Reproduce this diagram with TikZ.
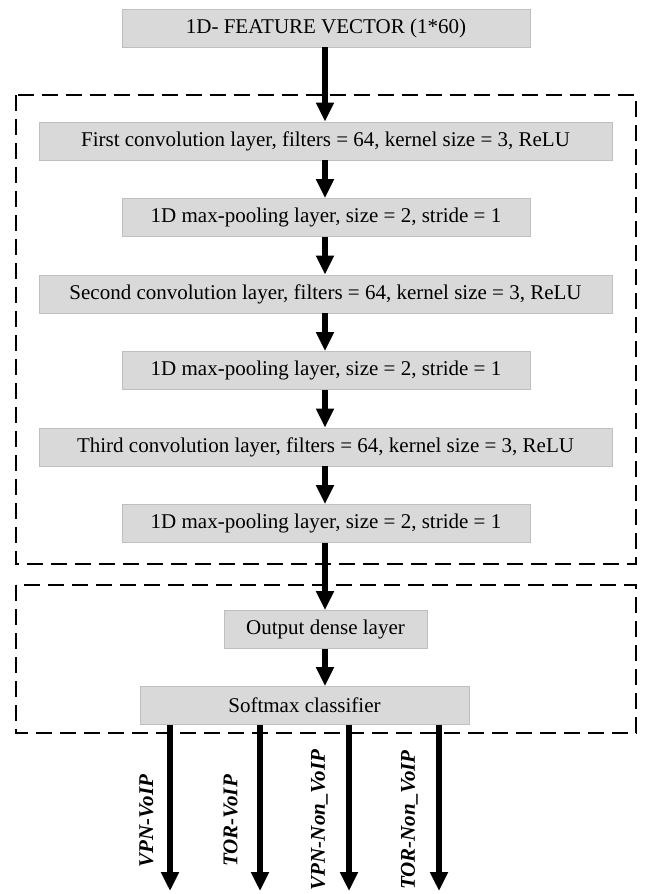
\documentclass[tikz,border=0pt]{standalone}
\usepackage{fontspec}
\setmainfont{Liberation Serif}
\usetikzlibrary{arrows.meta}
\definecolor{boxfill}{HTML}{D9D9D9}
\definecolor{boxline}{HTML}{BFBFBF}
\begin{document}
\begin{tikzpicture}[x=1pt,y=-1pt,
  layerbox/.style={draw=boxline, fill=boxfill, line width=0.8pt, inner sep=0pt, minimum height=38pt, font=\fontsize{21}{24}\selectfont},
  flow/.style={line width=6pt, -{Triangle[length=19pt,width=17pt]}},
  group/.style={draw, line width=1.8pt, dash pattern=on 16pt off 8pt},
  outlabel/.style={rotate=90, inner sep=0pt, font=\fontsize{21}{24}\selectfont\bfseries\itshape}]
\useasboundingbox (0,0) rectangle (645,894);
\draw[group] (16,95) rectangle (636,564);
\draw[group] (16,585) rectangle (636,733);
\node[layerbox, minimum width=408pt] (fv) at (326,28) {1D- FEATURE VECTOR (1*60)};
\node[layerbox, minimum width=573pt] (c1) at (325.5,141) {First convolution layer, filters = 64, kernel size = 3, ReLU};
\node[layerbox, minimum width=408pt] (p1) at (326,217.5) {1D max-pooling layer, size = 2, stride = 1};
\node[layerbox, minimum width=573pt] (c2) at (325.5,294) {Second convolution layer, filters = 64, kernel size = 3, ReLU};
\node[layerbox, minimum width=408pt] (p2) at (326,370.5) {1D max-pooling layer, size = 2, stride = 1};
\node[layerbox, minimum width=573pt] (c3) at (325.5,447) {Third convolution layer, filters = 64, kernel size = 3, ReLU};
\node[layerbox, minimum width=408pt] (p3) at (326,523.5) {1D max-pooling layer, size = 2, stride = 1};
\node[layerbox, minimum width=203pt] (od) at (325.5,629.5) {Output dense layer};
\node[layerbox, minimum width=329pt] (sm) at (304.5,705.5) {Softmax classifier};
\draw[flow] (fv.south -| 325,0) -- (c1.north -| 325,0);
\draw[flow] (c1.south -| 325,0) -- (p1.north -| 325,0);
\draw[flow] (p1.south -| 325,0) -- (c2.north -| 325,0);
\draw[flow] (c2.south -| 325,0) -- (p2.north -| 325,0);
\draw[flow] (p2.south -| 325,0) -- (c3.north -| 325,0);
\draw[flow] (c3.south -| 325,0) -- (p3.north -| 325,0);
\draw[flow] (p3.south -| 325,0) -- (od.north -| 325,0);
\draw[flow] (od.south -| 325,0) -- (sm.north -| 325,0);
\coordinate (e1) at (170,891);
\coordinate (e2) at (260,891);
\coordinate (e3) at (349,891);
\coordinate (e4) at (439,891);
\draw[flow] (sm.south -| e1) -- (e1);
\draw[flow] (sm.south -| e2) -- (e2);
\draw[flow] (sm.south -| e3) -- (e3);
\draw[flow] (sm.south -| e4) -- (e4);
\node[outlabel] (l1) at (146.5,821) {VPN-VoIP};
\node[outlabel] (l2) at (230.5,821) {TOR-VoIP};
\node[outlabel] (l3) at (319.5,820) {VPN-Non\_VoIP};
\node[outlabel] (l4) at (409.5,820) {TOR-Non\_VoIP};
\end{tikzpicture}
\end{document}
